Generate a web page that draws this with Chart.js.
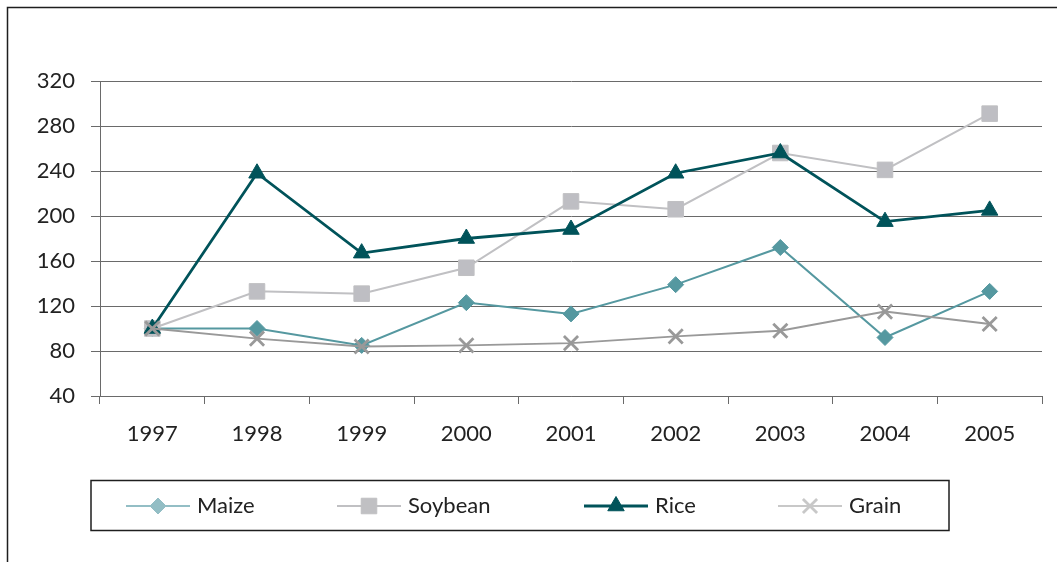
<!DOCTYPE html>
<html>
<head>
<meta charset="utf-8">
<style>
  html, body { margin: 0; padding: 0; background: #ffffff; }
  #wrap { width: 1057px; height: 562px; position: relative; }
</style>
<script src="https://cdn.jsdelivr.net/npm/chart.js@4/dist/chart.umd.min.js"></script>
</head>
<body>
<div id="wrap"><canvas id="c" width="1057" height="562"></canvas></div>
<script>
// Price index by crop, 1997 = 100
const years = ['1997', '1998', '1999', '2000', '2001', '2002', '2003', '2004', '2005'];
const maize   = [100, 100, 85, 123, 113, 139, 172, 92, 133];
const soybean = [100, 133, 131, 154, 213, 206, 256, 241, 291];
const rice    = [100, 238, 167, 180, 188, 238, 256, 195, 205];
const grain   = [100, 91, 84, 85, 87, 93, 98, 115, 104];
const yTicks  = [40, 80, 120, 160, 200, 240, 280, 320];

const FONT = 'Lato, "DejaVu Sans", sans-serif';
const AXIS = '#6a6a6a';

// Frame lines and the boxed legend under the plot
const decorations = {
  id: 'decorations',
  afterDraw(chart) {
    const ctx = chart.ctx;
    ctx.save();
    ctx.strokeStyle = '#1e1e1e';
    ctx.lineWidth = 1.5;
    ctx.beginPath();
    ctx.moveTo(7.5, 562);
    ctx.lineTo(7.5, 7.5);
    ctx.lineTo(1057, 7.5);
    ctx.stroke();

    // legend box
    ctx.lineWidth = 1.5;
    ctx.strokeRect(91, 480.5, 858, 50);

    const starts = [126, 337, 584, 778];
    const cy = 506;
    chart.data.datasets.forEach((ds, i) => {
      const x0 = starts[i];
      const col = ds.legendColor || ds.borderColor;
      ctx.strokeStyle = col;
      ctx.lineWidth = ds.borderWidth;
      ctx.beginPath();
      ctx.moveTo(x0, cy);
      ctx.lineTo(x0 + 64, cy);
      ctx.stroke();
      ctx.fillStyle = col;
      ctx.strokeStyle = col;
      ctx.lineWidth = ds.pointBorderWidth;
      Chart.helpers.drawPoint(ctx, {
        pointStyle: ds.pointStyle,
        radius: ds.pointRadius,
        borderWidth: ds.pointBorderWidth
      }, x0 + 32, cy);
      ctx.fillStyle = '#222';
      ctx.font = '22px ' + FONT;
      ctx.textBaseline = 'middle';
      ctx.textAlign = 'left';
      ctx.fillText(ds.label, x0 + 71, cy);
    });
    ctx.restore();
  }
};

new Chart(document.getElementById('c'), {
  type: 'line',
  data: {
    labels: years,
    datasets: [
      {
        label: 'Maize', data: maize,
        borderColor: '#5598a0', backgroundColor: '#5598a0', legendColor: '#93bec5',
        borderWidth: 2, pointStyle: 'rectRot', pointRadius: 8, pointBorderWidth: 1,
        order: 3
      },
      {
        label: 'Soybean', data: soybean,
        borderColor: '#c0c0c3', backgroundColor: '#bebec3',
        borderWidth: 2, pointStyle: 'rect', pointRadius: 11, pointBorderWidth: 1,
        order: 2
      },
      {
        label: 'Rice', data: rice,
        borderColor: '#00535a', backgroundColor: '#00535a',
        borderWidth: 2.8, pointStyle: 'triangle', pointRadius: 9.5, pointBorderWidth: 1,
        order: 1
      },
      {
        label: 'Grain', data: grain,
        borderColor: '#999999', backgroundColor: '#999999', legendColor: '#c8c8c8',
        borderWidth: 2, pointStyle: 'crossRot', pointRadius: 10, pointBorderWidth: 2.8,
        order: 0
      }
    ]
  },
  options: {
    responsive: false,
    animation: false,
    devicePixelRatio: 1,
    layout: { padding: { top: 81, right: 15, bottom: 0, left: 0 } },
    elements: { line: { tension: 0 } },
    plugins: { legend: { display: false }, tooltip: { enabled: false } },
    scales: {
      x: {
        offset: true,
        grid: { offset: true, drawOnChartArea: false, color: AXIS, tickLength: 8, lineWidth: 1 },
        border: { display: true, color: AXIS, width: 1 },
        ticks: { color: '#222', font: { family: FONT, size: 22 }, padding: 17, maxRotation: 0 },
        afterFit(scale) { scale.height = 166; }
      },
      y: {
        min: 40, max: 320,
        afterBuildTicks(scale) { scale.ticks = yTicks.map(v => ({ value: v })); },
        grid: { color: AXIS, tickLength: 9, lineWidth: 1 },
        border: { display: true, color: AXIS, width: 1 },
        ticks: { color: '#222', font: { family: FONT, size: 22 }, padding: 16 },
        afterFit(scale) { scale.width = 100; }
      }
    }
  },
  plugins: [decorations]
});
</script>
</body>
</html>
